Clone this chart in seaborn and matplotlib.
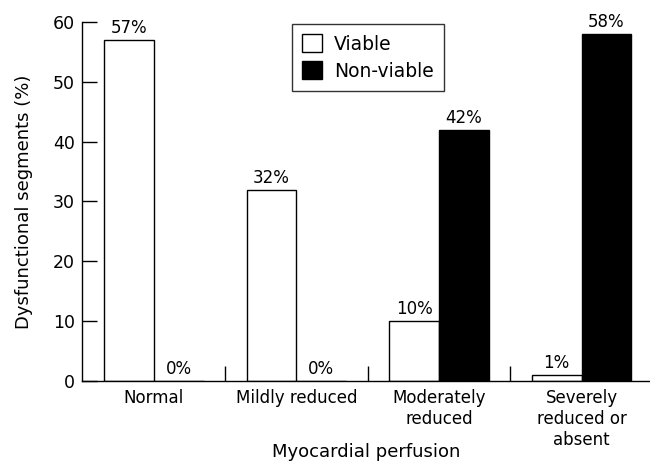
import pandas as pd
import matplotlib.pyplot as plt
import seaborn as sns

# Data
categories = ["Normal", "Mildly reduced", "Moderately\nreduced", "Severely\nreduced or\nabsent"]
viable = [57, 32, 10, 1]
non_viable = [0, 0, 42, 58]
series = ["Viable", "Non-viable"]

df = pd.DataFrame({
    "perfusion": categories * 2,
    "percent": viable + non_viable,
    "status": [series[0]] * len(categories) + [series[1]] * len(categories),
})

sns.set_style("ticks")
plt.rcParams['font.family'] = ['DejaVu Sans']
plt.rcParams['text.color'] = 'black'
plt.rcParams['axes.labelcolor'] = 'black'
plt.rcParams['xtick.color'] = 'black'
plt.rcParams['ytick.color'] = 'black'

fig = plt.figure(figsize=(6.5, 4.68), dpi=100)
ax = fig.add_axes([0.126, 0.186, 0.874, 0.767])

sns.barplot(data=df, x="perfusion", y="percent", hue="status",
            palette={"Viable": "white", "Non-viable": "black"},
            edgecolor="black", linewidth=1.0, width=0.7, ax=ax)

# percentage labels above each bar
for cont in ax.containers:
    ax.bar_label(cont, fmt="{:.0f}%", padding=2, fontsize=12, color="black")

ax.set_ylim(0, 60)
ax.set_xlim(-0.505, 3.48)
ax.set_yticks(range(0, 61, 10))
ax.set_xticks([0.5, 1.5, 2.5], minor=True)

sns.despine(ax=ax)
for s in ["left", "bottom"]:
    ax.spines[s].set_linewidth(1.0)
    ax.spines[s].set_color("black")

ax.tick_params(axis="y", direction="in", length=11, width=1.0, pad=5, labelsize=12.5)
ax.tick_params(axis="x", which="major", length=0, pad=6, labelsize=12)
ax.tick_params(axis="x", which="minor", direction="in", length=11, width=1.0)

ax.set_xlabel("Myocardial perfusion", fontsize=13)
ax.xaxis.set_label_coords(0.5, -0.172)
ax.set_ylabel("Dysfunctional segments (%)", fontsize=13, labelpad=14)

leg = ax.legend(title=None, loc="upper center", bbox_to_anchor=(0.503, 0.994),
                borderaxespad=0, fontsize=13.5, frameon=True, fancybox=False,
                framealpha=1, handlelength=1.1, handleheight=1.1,
                handletextpad=0.6, labelspacing=0.4, borderpad=0.55)
leg.get_frame().set_edgecolor("#333333")
leg.get_frame().set_linewidth(1.0)

fig.savefig("out.png", dpi=100)
